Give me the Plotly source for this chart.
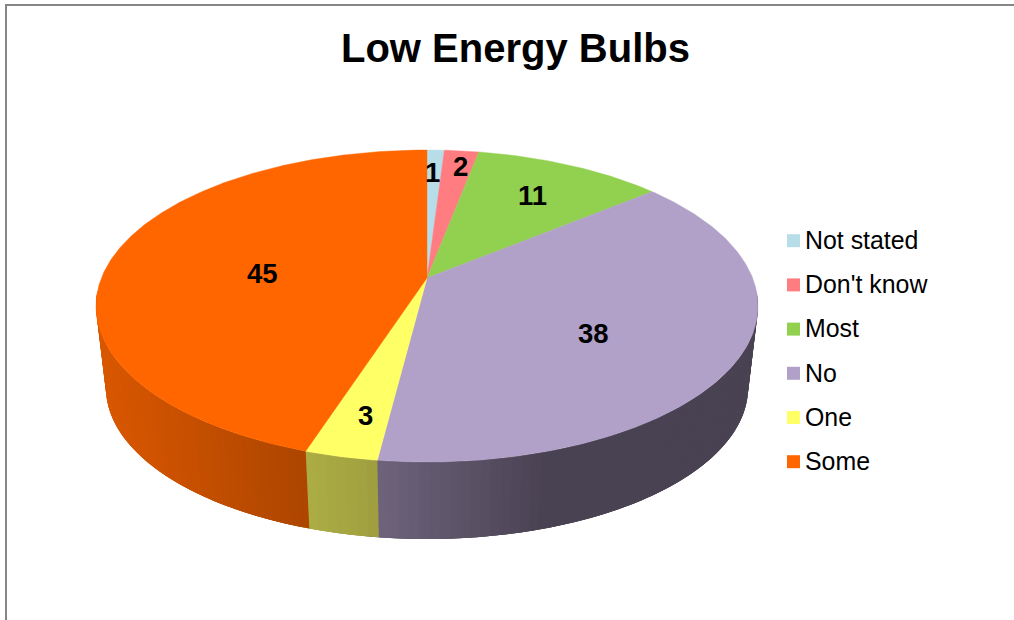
import numpy as np
import plotly.graph_objects as go

categories = ["Not stated", "Don't know", "Most", "No", "One", "Some"]
values = [1, 2, 11, 38, 3, 45]
colors = ["#B7DEE8", "#FF7C80", "#92D050", "#B1A0C7", "#FFFF66", "#FF6600"]
title_text = "Low Energy Bulbs"

# label placement within each slice (radius fraction, px nudges)
label_radius = [0.8, 0.8, 0.7, 0.555, 0.75, 0.52]
label_dx = [-2, 4.5, 0.5, 0.5, 0, 0.5]
label_dy = [0, -6.5, 0, 13.5, 10.5, 8]

# projection of the pie disc
CX, CY, AX, BY, K = 427.0, 278.0, 325.6, 151.0, 0.1795
LOW_SCALE, LOW_CY = 0.97, 360.5
# wall shading as a function of screen x
SHADE_X = [100, 305, 378, 550, 750]
SHADE_V = [0.85, 0.68, 0.62, 0.41, 0.41]


def project(theta, r=1.0, cy=CY, scale=1.0):
    X, Y = r * np.sin(theta), r * np.cos(theta)
    d = 1 + K * Y
    return CX + scale * AX * X / d, cy - scale * BY * Y / d


def rgb(hexstr, f=1.0):
    c = [int(hexstr[i:i + 2], 16) for i in (1, 3, 5)]
    return "rgb({},{},{})".format(*[int(round(v * f)) for v in c])


total = sum(values)
edges = np.cumsum([0] + values) / total * 2 * np.pi
fig = go.Figure()

# side wall: each strip runs under the next one so no seams show
VIS_A, VIS_B = np.radians(95), np.radians(265)
for i, col in enumerate(colors):
    a, b = max(edges[i], VIS_A), min(edges[i + 1], VIS_B)
    if b <= a:
        continue
    n = max(2, int(np.degrees(b - a) / 1.5))
    t = np.linspace(a, b, n + 1)
    for t0, t1 in zip(t[:-1], t[1:]):
        tt = np.linspace(t0, min(t1 + 2 * (t1 - t0), VIS_B), 5)
        xu, yu = project(tt)
        xl, yl = project(tt[::-1], cy=LOW_CY, scale=LOW_SCALE)
        sx, _ = project((t0 + t1) / 2)
        c = rgb(col, float(np.interp(sx, SHADE_X, SHADE_V)))
        fig.add_trace(go.Scatter(
            x=np.r_[xu, xl, xu[0]], y=np.r_[yu, yl, yu[0]], mode="none",
            fill="toself", fillcolor=c,
            hoverinfo="skip", showlegend=False))

# top face
for i, (name, col) in enumerate(zip(categories, colors)):
    tt = np.linspace(edges[i], edges[i + 1], max(3, int(values[i] * 6)))
    x, y = project(tt)
    fig.add_trace(go.Scatter(
        x=np.r_[CX, x, CX], y=np.r_[CY, y, CY], mode="lines", fill="toself",
        fillcolor=col, line=dict(color=col, width=0.4), name=name,
        hoverinfo="skip", showlegend=False))

annotations = []
FONT = "Liberation Sans, Arial, sans-serif"
# data labels
for i, v in enumerate(values):
    mid = (edges[i] + edges[i + 1]) / 2
    x, y = project(mid, label_radius[i])
    annotations.append(dict(
        x=float(x + label_dx[i]), y=float(y + label_dy[i]), text=f"<b>{v}</b>",
        showarrow=False, xanchor="center", yanchor="middle",
        font=dict(family=FONT, size=27.5, color="black")))

# legend
LEG_X, LEG_TEXT_X, LEG_Y0, LEG_STEP = 793.5, 803, 240.7, 44.2
leg_y = [LEG_Y0 + i * LEG_STEP for i in range(len(categories))]
fig.add_trace(go.Scatter(
    x=[LEG_X] * len(categories), y=leg_y, mode="markers",
    marker=dict(symbol="square", size=13, color=colors, line=dict(width=0)),
    hoverinfo="skip", showlegend=False))
for name, y in zip(categories, leg_y):
    annotations.append(dict(
        x=LEG_TEXT_X, y=y - 0.8, text=name, showarrow=False, xanchor="left",
        yanchor="middle", font=dict(family=FONT, size=24.9, color="black")))

# title
annotations.append(dict(
    x=515.5, y=47.5, text=f"<b>{title_text}</b>", showarrow=False,
    xanchor="center", yanchor="middle",
    font=dict(family=FONT, size=40, color="black")))

frame = dict(color="#868686", width=2)
fig.update_layout(
    width=1014, height=620, margin=dict(l=0, r=0, t=0, b=0),
    paper_bgcolor="white", plot_bgcolor="white", showlegend=False,
    xaxis=dict(range=[0, 1014], visible=False, fixedrange=True),
    yaxis=dict(range=[620, 0], visible=False, fixedrange=True),
    annotations=annotations,
    shapes=[
        dict(type="line", x0=6, x1=6, y0=5, y1=620, line=frame),
        dict(type="line", x0=5, x1=1014, y0=5, y1=5, line=frame),
    ],
)
fig.write_html("out.html", post_script="document.body.style.margin='0';",
               config=dict(displayModeBar=False))
